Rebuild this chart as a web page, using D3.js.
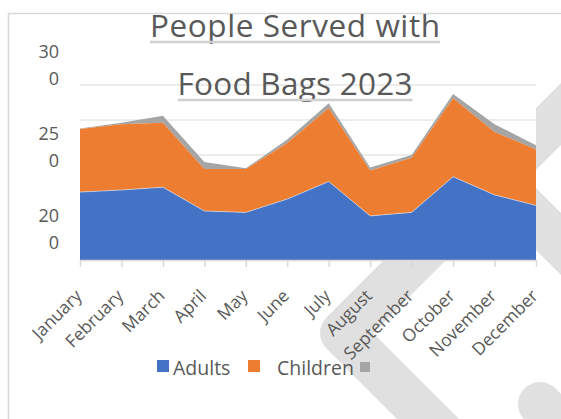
<!DOCTYPE html>
<html>
<head>
<meta charset="utf-8">
<script src="https://cdn.jsdelivr.net/npm/d3@7"></script>
<style>
  body { margin: 0; background: #fff; }
  text { font-family: "Open Sans", sans-serif; fill: #595959; }
</style>
</head>
<body>
<div id="chart"></div>
<script>
// values
const months = ["January", "February", "March", "April", "May", "June",
  "July", "August", "September", "October", "November", "December"];
const adults = [97, 100, 104, 70, 68, 87, 112, 63, 68, 119, 93, 78];
const children = [90, 94, 92, 60, 62, 80, 105, 65, 78, 112, 90, 80];
const other = [1, 2, 10, 10, 1, 5, 7, 4, 4, 6, 11, 6];
const gridValues = [0, 50, 100, 150, 200, 250];
const yLabels = [200, 250, 300];
const titleLines = ["People Served with", "Food Bags 2023"];

const width = 561, height = 419;
const plot = { left: 80, right: 536, top: 85, bottom: 260 };

const svg = d3.select("#chart").append("svg")
  .attr("width", width)
  .attr("height", height);

// light watermark behind the chart
const wm = svg.append("g")
  .attr("fill", "none")
  .attr("stroke", "#e0e0e0")
  .attr("stroke-width", 44)
  .attr("stroke-linecap", "round")
  .attr("stroke-linejoin", "round");
wm.append("path").attr("d", "M600,75 L342,333 L475,466");
wm.append("path").attr("d", "M450,133 L640,323");
wm.append("path").attr("d", "M540,404 L640,504");

// chart frame
svg.append("path")
  .attr("d", "M8.5,430 V13.5 H570")
  .attr("fill", "none")
  .attr("stroke", "#d9d9d9")
  .attr("stroke-width", 1.5);

svg.append("rect")
  .attr("x", plot.left).attr("y", plot.top)
  .attr("width", plot.right - plot.left)
  .attr("height", plot.bottom - plot.top)
  .attr("fill", "#fff");

const x = d3.scalePoint()
  .domain(months)
  .range([plot.left, plot.right]);

const y = d3.scaleLinear()
  .domain([0, 250])
  .range([plot.bottom, plot.top]);

// gridlines
svg.append("g")
  .selectAll("line")
  .data(gridValues)
  .join("line")
  .attr("x1", plot.left).attr("x2", plot.right)
  .attr("y1", d => y(d)).attr("y2", d => y(d))
  .attr("stroke", "#d9d9d9")
  .attr("stroke-width", 1.2);

const rows = months.map((m, i) => ({ month: m, adults: adults[i], children: children[i], other: other[i] }));
const keys = ["adults", "children", "other"];
const colors = { adults: "#4472C4", children: "#ED7D31", other: "#A5A5A5" };
const series = d3.stack().keys(keys)(rows);

const area = d3.area()
  .x(d => x(d.data.month))
  .y0(d => y(d[0]))
  .y1(d => y(d[1]));

svg.append("g")
  .selectAll("path")
  .data(series.slice().reverse())
  .join("path")
  .attr("fill", d => colors[d.key])
  .attr("d", area);

// thin light edge on top of the adults area
svg.append("path")
  .datum(series[0])
  .attr("fill", "none")
  .attr("stroke", "#fff")
  .attr("stroke-opacity", 0.6)
  .attr("stroke-width", 0.8)
  .attr("d", d3.line().x(d => x(d.data.month)).y(d => y(d[1])));

// x axis
const xAxis = svg.append("g")
  .attr("transform", `translate(0,${plot.bottom})`)
  .call(d3.axisBottom(x).tickSize(7).tickSizeOuter(0).tickFormat(""));
xAxis.select(".domain").attr("stroke", "#d9d9d9").attr("stroke-width", 1.5);
xAxis.selectAll(".tick line").attr("stroke", "#d9d9d9").attr("stroke-width", 1.5);

svg.append("g")
  .selectAll("text")
  .data(months)
  .join("text")
  .attr("transform", d => `translate(${x(d) + 3},297) rotate(-45)`)
  .attr("text-anchor", "end")
  .attr("font-size", 17.5)
  .text(d => d);

// y labels (wrapped onto two lines as in the original)
const yl = d3.scaleLinear().domain([200, 300]).range([226, 62]);
const yText = svg.append("g")
  .selectAll("text")
  .data(yLabels)
  .join("text")
  .attr("text-anchor", "end")
  .attr("font-size", 18)
  .attr("x", 59)
  .attr("y", d => yl(d));
yText.append("tspan").attr("x", 59).attr("dy", "-0.2em").text(d => String(d).slice(0, 2));
yText.append("tspan").attr("x", 59).attr("dy", "1.45em").text(d => String(d).slice(2));

// title
const titleG = svg.append("g");
const titleW = [290, 235];
titleLines.forEach((t, i) => {
  const yy = [37, 95][i];
  titleG.append("text")
    .attr("x", 295).attr("y", yy)
    .attr("text-anchor", "middle")
    .attr("font-size", 31.5)
    .attr("textLength", titleW[i])
    .attr("lengthAdjust", "spacing")
    .text(t);
  titleG.append("line")
    .attr("x1", 295 - titleW[i] / 2).attr("x2", 295 + titleW[i] / 2)
    .attr("y1", yy + 5).attr("y2", yy + 5)
    .attr("stroke", "#d0d0d0")
    .attr("stroke-width", 2.5);
});

// legend
const legend = [
  { key: "adults", label: "Adults", x: 157 },
  { key: "children", label: "Children", x: 248 },
  { key: "other", label: "", x: 360 }
];
const lg = svg.append("g");
lg.selectAll("rect")
  .data(legend)
  .join("rect")
  .attr("x", d => d.x)
  .attr("y", d => d.key === "other" ? 362 : 360)
  .attr("width", d => d.key === "other" ? 10 : 12)
  .attr("height", d => d.key === "other" ? 10 : 12)
  .attr("fill", d => colors[d.key]);
lg.selectAll("text")
  .data(legend)
  .join("text")
  .attr("x", d => d.key === "children" ? d.x + 29 : d.x + 16)
  .attr("y", 375)
  .attr("font-size", 19.5)
  .text(d => d.label);
</script>
</body>
</html>
